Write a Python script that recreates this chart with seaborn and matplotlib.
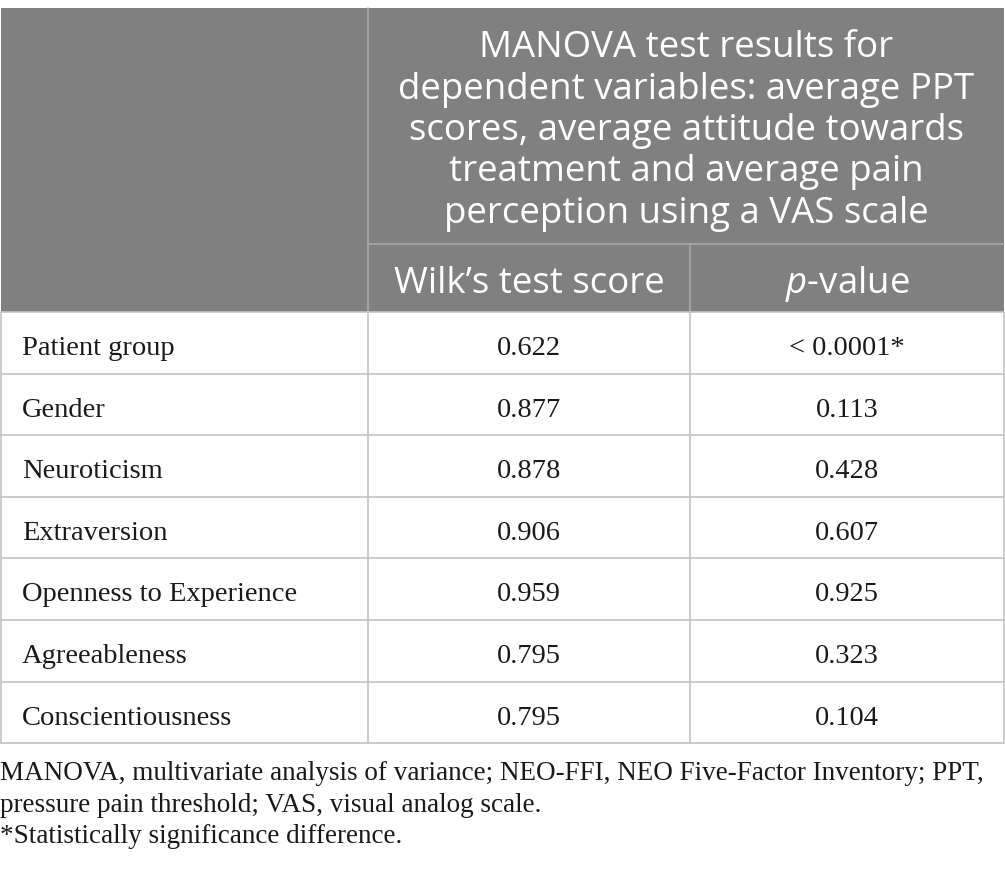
import matplotlib
matplotlib.use("Agg")
import matplotlib.pyplot as plt
import seaborn as sns

# Table contents
header_title = ["MANOVA test results for",
                "dependent variables: average PPT",
                "scores, average attitude towards",
                "treatment and average pain",
                "perception using a VAS scale"]
col_labels = ["Wilk\u2019s test score", r"$\it{p}$-value"]
row_labels = ["Patient group", "Gender", "Neuroticism", "Extraversion",
              "Openness to Experience", "Agreeableness", "Conscientiousness"]
wilks = ["0.622", "0.877", "0.878", "0.906", "0.959", "0.795", "0.795"]
pvals = ["< 0.0001*", "0.113", "0.428", "0.607", "0.925", "0.323", "0.104"]
footnotes = ["MANOVA, multivariate analysis of variance; NEO-FFI, NEO Five-Factor Inventory; PPT,",
             "pressure pain threshold; VAS, visual analog scale.",
             "*Statistically significance difference."]

sns.set_theme(style="white")
plt.rcParams["mathtext.fontset"] = "custom"
plt.rcParams["mathtext.rm"] = "Open Sans"
plt.rcParams["mathtext.it"] = "Open Sans:italic"

W, H = 1005, 876
fig = plt.figure(figsize=(W / 100, H / 100), dpi=100)
ax = fig.add_axes([0, 0, 1, 1])
ax.set_xlim(0, W)
ax.set_ylim(H, 0)
ax.axis("off")

gray = "#808080"
hline = "#a8a8a8"
bline = "#c4c4c4"
x0, x1, x2, x3 = 0.5, 368, 690, 1004
top, mid, hbot = 8, 244, 312
rh = 61.6
bot = hbot + rh * len(row_labels)

ax.add_patch(plt.Rectangle((x0, top), x3 - x0, hbot - top, color=gray, lw=0))
ax.plot([x1, x1], [top, hbot], color=hline, lw=1.2)
ax.plot([x2, x2], [mid, hbot], color=hline, lw=1.2)
ax.plot([x1, x3], [mid, mid], color=hline, lw=1.2)

hfont = dict(family="Open Sans", color="white", size=26.4)
for i, line in enumerate(header_title):
    ax.text((x1 + x3) / 2 + 0.5, 57 + i * 41.5, line, ha="center", va="baseline", **hfont)
ax.text((x1 + x2) / 2, 293, col_labels[0], ha="center", va="baseline", **hfont)
ax.text((x2 + x3) / 2, 293, col_labels[1], ha="center", va="baseline", **hfont)

# body grid
for k in range(len(row_labels) + 1):
    y = hbot + k * rh
    ax.plot([x0, x3], [y, y], color=bline, lw=1.2)
for x in (x0, x1, x2, x3):
    ax.plot([x, x], [hbot, bot], color=bline, lw=1.2)

bfont = dict(family="Liberation Serif", color="#1a1a1a", size=20.5)
for k, (lab, w, p) in enumerate(zip(row_labels, wilks, pvals)):
    yb = hbot + k * rh + 43
    ax.text(22, yb, lab, ha="left", va="baseline", **bfont)
    ax.text((x1 + x2) / 2, yb, w, ha="center", va="baseline", **bfont)
    ax.text((x2 + x3) / 2, yb, p, ha="center", va="baseline", **bfont)

ffont = dict(bfont, size=19.5)
for i, line in enumerate(footnotes):
    ax.text(0, 780 + i * 31.5, line, ha="left", va="baseline", **ffont)

fig.savefig("out.png", dpi=100)
